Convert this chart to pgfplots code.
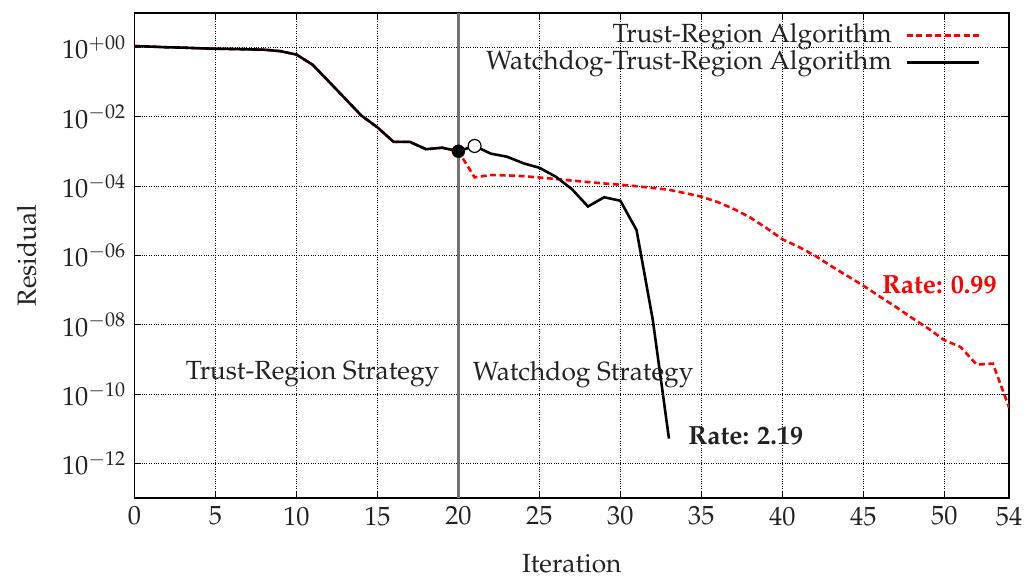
\documentclass[border=0pt]{standalone}
\usepackage[T1]{fontenc}
\usepackage{mathpazo}
\usepackage{pgfplots}
\pgfplotsset{compat=1.18}
\pgfplotsset{layers/mylayers/.define layer set={axis background,axis grid,pre main,axis ticks,axis lines,axis tick labels,main,axis descriptions,axis foreground}{}}
\definecolor{txt}{HTML}{222222}
\begin{document}
\fontsize{26.5}{30}\selectfont
\begin{tikzpicture}
\begin{axis}[
  set layers=mylayers,
  scale only axis, width=878bp, height=487bp,
  ymode=log, xmin=0, xmax=54, ymin=1e-13, ymax=1e1,
  xtick={0,5,10,15,20,25,30,35,40,45,50,54},
  ytick={1e0,1e-2,1e-4,1e-6,1e-8,1e-10,1e-12},
  yticklabels={$10^{+00}$,$10^{-02}$,$10^{-04}$,$10^{-06}$,$10^{-08}$,$10^{-10}$,$10^{-12}$},
  yminorticks=false, xminorticks=false,
  grid=major, major grid style={black, dotted, line width=0.9pt},
  axis line style={line width=1.6pt},
  major tick style={black, line width=1pt}, major tick length=7bp,
  tick align=inside,
  ticklabel style={text=txt},
  xlabel={Iteration}, ylabel={Residual},
  xlabel shift=11bp, ylabel shift=8bp,
  label style={text=txt},
  legend plot pos=right, legend cell align=right,
  legend style={draw=none, fill=none, at={(rel axis cs:0.967,0.980)}, anchor=north east, row sep=2bp, inner sep=0pt, text=txt,
    nodes={inner ysep=1bp}},
  legend image code/.code={\path (0bp,0bp); \draw[#1] (12bp,0bp) -- (84bp,0bp);},
]
\begin{pgfonlayer}{pre main}
\fill[white] (axis cs:16.3,0.148) rectangle (axis cs:53.9,9.0);
\end{pgfonlayer}
\draw[black!55, line width=3bp] (axis cs:20,1e-13) -- (axis cs:20,1e1);

\addplot[red, dashed, line width=2.6bp, dash pattern=on 6bp off 3.5bp] coordinates {
(0,1.1) (1,1.07) (2,1.02) (3,1.0) (4,0.955) (5,0.93) (6,0.91) (7,0.89) (8,0.87) (9,0.79)
(10,0.63) (11,0.32) (12,0.105) (13,0.034) (14,0.011) (15,5.0e-3) (16,1.9e-3) (17,1.9e-3)
(18,1.17e-3) (19,1.29e-3) (20,1.02e-3)
(21,1.8e-4) (22,2.1e-4) (23,2.05e-4) (24,1.95e-4) (25,1.78e-4) (26,1.62e-4) (27,1.45e-4)
(28,1.32e-4) (29,1.2e-4) (30,1.1e-4) (31,1.0e-4) (32,8.9e-5) (33,7.9e-5) (34,6.3e-5)
(35,5.0e-5) (36,3.5e-5) (37,2.2e-5) (38,1.26e-5) (39,6.3e-6) (40,2.95e-6) (41,1.78e-6)
(42,1.0e-6) (43,5.0e-7) (44,2.6e-7) (45,1.35e-7) (46,6.6e-8) (47,3.3e-8) (48,1.58e-8)
(49,7.9e-9) (50,3.6e-9) (51,2.3e-9) (52,7.1e-10) (53,7.6e-10) (54,4.1e-11)
};
\addplot[black, line width=2.6bp] coordinates {
(0,1.1) (1,1.07) (2,1.02) (3,1.0) (4,0.955) (5,0.93) (6,0.91) (7,0.89) (8,0.87) (9,0.79)
(10,0.63) (11,0.32) (12,0.105) (13,0.034) (14,0.011) (15,5.0e-3) (16,1.9e-3) (17,1.9e-3)
(18,1.17e-3) (19,1.29e-3) (20,1.02e-3)
(21,1.45e-3) (22,8.7e-4) (23,7.1e-4) (24,4.6e-4) (25,3.4e-4) (26,1.9e-4) (27,8.3e-5)
(28,2.6e-5) (29,4.8e-5) (30,3.8e-5) (31,5.4e-6) (32,1.4e-8) (33,5.2e-12)
};
\legend{Trust-Region Algorithm, Watchdog-Trust-Region Algorithm}
\addplot[only marks, mark=*, mark size=6.5bp, black] coordinates {(20,1.02e-3)};
\addplot[only marks, mark=*, mark size=6.5bp, mark options={fill=white, draw=black, line width=1.2bp}] coordinates {(21,1.45e-3)};

\node[text=txt] at (axis cs:11,3.7e-10) {Trust-Region Strategy};
\node[text=txt] at (axis cs:27.7,3.7e-10) {Watchdog Strategy};
\node[text=txt, anchor=west, font=\bfseries] at (axis cs:33.65,6.3e-12) {Rate: 2.19};
\node[text=red, anchor=west, font=\bfseries] at (axis cs:45.6,1.4e-7) {Rate: 0.99};
\end{axis}
\path ([shift={(-135bp,-76bp)}]current axis.south west) rectangle ([shift={(18bp,13bp)}]current axis.north east);
\end{tikzpicture}
\end{document}
